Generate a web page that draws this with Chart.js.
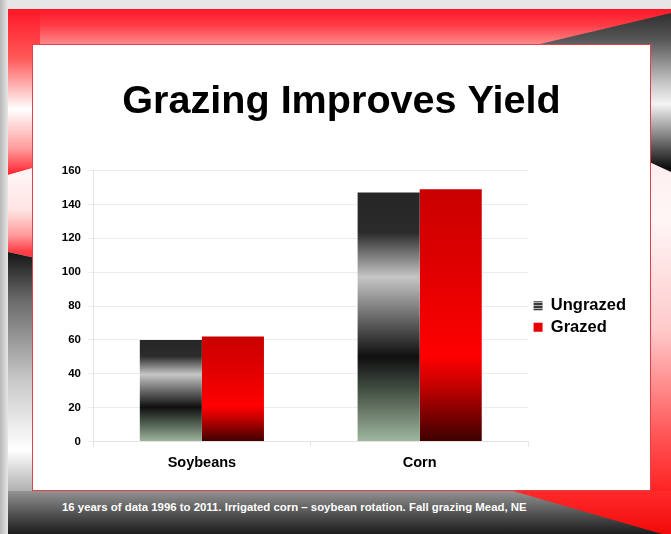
<!DOCTYPE html>
<html>
<head>
<meta charset="utf-8">
<script src="https://cdn.jsdelivr.net/npm/chart.js@4/dist/chart.umd.min.js"></script>
<style>
  html, body { margin: 0; padding: 0; }
  body {
    width: 671px; height: 534px; position: relative; overflow: hidden;
    background: linear-gradient(to right, #b8b8b8, #e6e6e6 8px, #e6e6e6);
    font-family: "Liberation Sans", Arial, sans-serif;
  }
  .deco { position: absolute; }
  /* bande rouge du haut */
  #topBand { left: 8px; top: 9px; width: 663px; height: 40px;
    background: linear-gradient(to bottom, #ff1626 0%, #ff3b45 40%, #ff9c9c 100%); }
  /* bord gauche, trois morceaux */
  #leftA { left: 8px; top: 9px; width: 32px; height: 170px;
    clip-path: polygon(0 0, 100% 0, 100% 157px, 0 166px);
    background: linear-gradient(to bottom, #ff1626 0px, #ff5a5a 50px, #ffffff 100px, #ff9a9a 140px, #ff1f2c 166px); }
  #leftB { left: 8px; top: 155px; width: 32px; height: 110px;
    clip-path: polygon(0 20px, 100% 11px, 100% 104px, 0 97px);
    background: linear-gradient(to bottom, #fff4f4 20px, #ffe4e4 55px, #ff9a9a 80px, #ff3b45 97px); }
  #leftC { left: 8px; top: 250px; width: 32px; height: 284px;
    clip-path: polygon(0 2px, 100% 9px, 100% 100%, 0 100%);
    background: linear-gradient(to bottom, #151515 2px, #6a6a6a 50px, #c8c8c8 130px, #ffffff 200px, #b0b0b0 241px, #222 284px); }
  /* coin haut droit sombre */
  #rightD { left: 520px; top: 9px; width: 151px; height: 170px;
    clip-path: polygon(20px 35px, 151px 4px, 151px 163px, 125px 151px, 125px 35px);
    background: linear-gradient(to bottom, #2a2a2a 0px, #555 30px, #c8c8c8 75px, #f4f4f4 95px, #8a8a8a 125px, #101010 158px); }
  #rightE { left: 645px; top: 150px; width: 26px; height: 345px;
    clip-path: polygon(0 10px, 100% 22px, 100% 100%, 0 100%);
    background: linear-gradient(to bottom, #fff0f0 20px, #fff6f6 70px, #ffcaca 180px, #ff5050 290px, #ff2020 345px); }
  /* bande sombre du bas */
  #bottomBand { left: 8px; top: 491px; width: 663px; height: 43px;
    background: linear-gradient(to bottom, #939393 0%, #5c5c5c 45%, #1c1c1c 100%); }
  #bottomRed { left: 505px; top: 491px; width: 166px; height: 43px;
    clip-path: polygon(8px 0, 100% 0, 100% 100%, 157px 100%);
    background: linear-gradient(to bottom, #ff2a2a, #f20a0a); }
  #panel { left: 32px; top: 44px; width: 617px; height: 445px;
    background: #fff; border: 1px solid #e4404c; }
  #chartBox { position: absolute; left: 33px; top: 45px; width: 617px; height: 445px; }
  #footer { left: 62px; top: 501px; color: #fff; font-weight: bold; font-size: 11.4px;
    white-space: nowrap; }
</style>
</head>
<body>
<div class="deco" id="topBand"></div>
<div class="deco" id="leftA"></div>
<div class="deco" id="leftB"></div>
<div class="deco" id="leftC"></div>
<div class="deco" id="rightE"></div>
<div class="deco" id="bottomBand"></div>
<div class="deco" id="bottomRed"></div>
<div class="deco" id="rightD"></div>
<div class="deco" id="panel"></div>
<div id="chartBox"><canvas id="grafico" width="617" height="445"></canvas></div>
<div class="deco" id="footer">16 years of data 1996 to 2011. Irrigated corn – soybean rotation. Fall grazing Mead, NE</div>

<script>
const categorias = ['Soybeans', 'Corn'];
const naoPastejado = [60, 147];
const pastejado = [62, 149];
const rotulosSeries = ['Ungrazed', 'Grazed'];
const ticksY = [0, 20, 40, 60, 80, 100, 120, 140, 160];

const titulo = 'Grazing Improves Yield';
const fonte = '"Liberation Sans", Arial, sans-serif';

// Degradês verticais de cada barra (do topo até a base)
const degradeCinza = [
    [0, '#262626'], [0.16, '#2b2b2b'], [0.34, '#c6c6c6'], [0.5, '#6a6a6a'],
    [0.66, '#0f0f0f'], [0.82, '#4f5d4f'], [1, '#9fb79f']
];
const degradeVermelho = [
    [0, '#c90000'], [0.35, '#e30000'], [0.66, '#ff0000'], [0.76, '#cf0000'], [1, '#3c0000']
];

/**
 * Devolve uma função que cria o degradê ajustado à altura de cada barra.
 */
function preenchimento(paradas, corSimples) {
    return (context) => {
        const chart = context.chart;
        if (context.type !== 'data' || !chart.chartArea) return corSimples;
        const escala = chart.scales.y;
        const topo = escala.getPixelForValue(context.raw);
        const base = escala.getPixelForValue(0);
        const g = chart.ctx.createLinearGradient(0, topo, 0, base);
        paradas.forEach(([pos, cor]) => g.addColorStop(pos, cor));
        return g;
    };
}

const ctx = document.getElementById('grafico').getContext('2d');

// Quadradinho listrado da legenda "Ungrazed"
const mini = document.createElement('canvas');
mini.width = 9;
mini.height = 3;
const miniCtx = mini.getContext('2d');
miniCtx.fillStyle = '#3a3a3a';
miniCtx.fillRect(0, 0, 9, 2);
miniCtx.fillStyle = '#b0b0b0';
miniCtx.fillRect(0, 2, 9, 1);
const listrado = ctx.createPattern(mini, 'repeat');

new Chart(ctx, {
    type: 'bar',
    data: {
        labels: categorias,
        datasets: [{
            label: rotulosSeries[0],
            data: naoPastejado,
            backgroundColor: preenchimento(degradeCinza, '#4a4a4a'),
            borderWidth: 0
        }, {
            label: rotulosSeries[1],
            data: pastejado,
            backgroundColor: preenchimento(degradeVermelho, '#e80000'),
            borderWidth: 0
        }]
    },
    options: {
        responsive: false,
        animation: false,
        layout: { padding: { left: 14, right: 14, top: 0, bottom: 10 } },
        datasets: {
            bar: { categoryPercentage: 0.57, barPercentage: 1.0 }
        },
        plugins: {
            title: {
                display: true,
                text: titulo,
                color: '#000',
                font: { family: fonte, size: 39.6, weight: 'bold' },
                padding: { top: 33, bottom: 45 }
            },
            legend: {
                position: 'right',
                title: {
                    // título vazio só para empurrar a legenda para baixo
                    display: true,
                    text: ' ',
                    font: { size: 10 },
                    padding: { top: 96, bottom: 0 }
                },
                labels: {
                    color: '#000',
                    font: { family: fonte, size: 16.5, weight: 'bold' },
                    boxWidth: 9,
                    boxHeight: 9,
                    padding: 5,
                    generateLabels: (chart) => chart.data.datasets.map((ds, i) => ({
                        text: ds.label,
                        fillStyle: i === 0 ? listrado : '#e80000',
                        strokeStyle: 'transparent',
                        lineWidth: 0,
                        datasetIndex: i,
                        fontColor: '#000'
                    }))
                }
            },
            tooltip: { enabled: false }
        },
        scales: {
            x: {
                grid: { drawOnChartArea: false, color: '#e4e4e4', tickLength: 5 },
                border: { color: '#e4e4e4' },
                ticks: {
                    color: '#000',
                    padding: 8,
                    font: { family: fonte, size: 14.5, weight: 'bold' }
                }
            },
            y: {
                min: 0,
                max: 160,
                afterBuildTicks: (scale) => { scale.ticks = ticksY.map(v => ({ value: v })); },
                afterFit: (scale) => { scale.width = 46; },
                grid: { color: '#ececec', tickLength: 5 },
                border: { color: '#e4e4e4' },
                ticks: {
                    color: '#000',
                    padding: 7,
                    font: { family: fonte, size: 11.5, weight: 'bold' }
                }
            }
        }
    }
});
</script>
</body>
</html>
